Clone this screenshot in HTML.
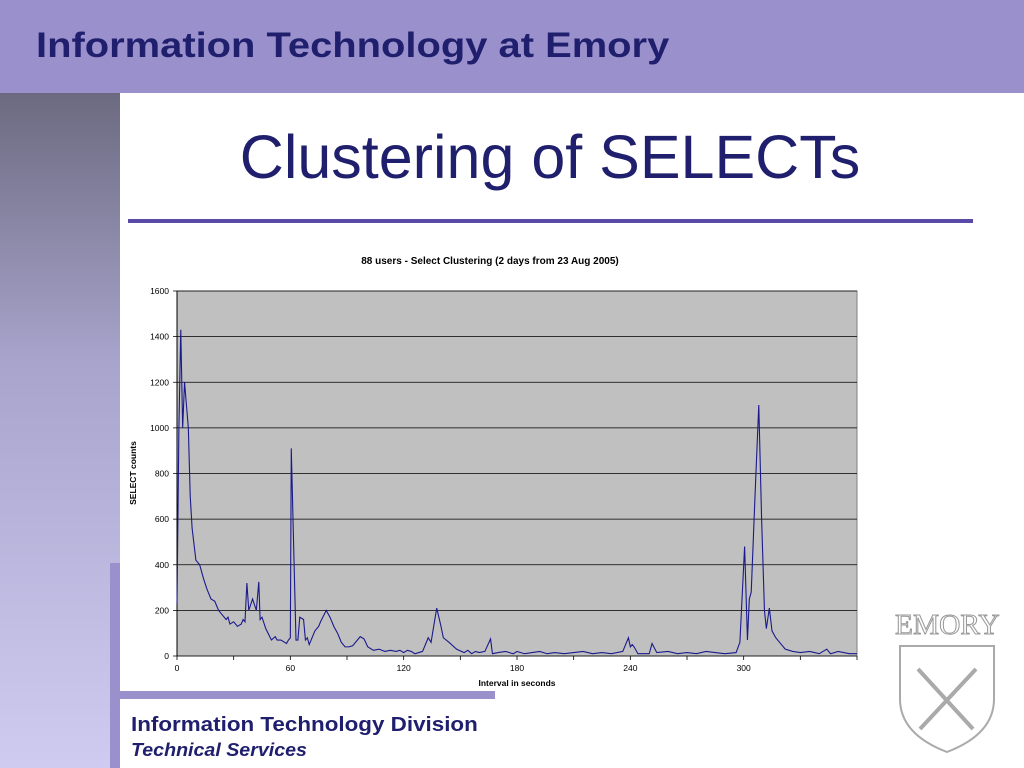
<!DOCTYPE html>
<html><head><meta charset="utf-8"><style>
body{margin:0;width:1024px;height:768px;overflow:hidden;background:#fff;font-family:"Liberation Sans",sans-serif;position:relative}
.abs{position:absolute}
</style></head><body>
<div class="abs" style="left:0;top:0;width:1024px;height:93px;background:#9a90cc"></div>
<div class="abs" style="left:36px;top:26px;font-size:35px;font-weight:bold;color:#1f1f6e;transform-origin:0 0;transform:scaleX(1.14);white-space:nowrap">Information Technology at Emory</div>
<div class="abs" style="left:0;top:93px;width:120px;height:675px;background:linear-gradient(#6c6a80,#a8a4cc 40%,#cfcbf0)"></div>
<div class="abs" style="left:110px;top:563px;width:10px;height:205px;background:#9a90cc"></div>
<div class="abs" style="left:120px;top:122px;width:860px;text-align:center;font-size:61px;color:#1f1f6e">Clustering of SELECTs</div>
<div class="abs" style="left:128px;top:219px;width:845px;height:4px;background:#5a4aa8"></div>
<div class="abs" style="left:120px;top:691px;width:375px;height:8px;background:#9a90cc"></div>
<div class="abs" style="left:131px;top:714px;font-size:20px;font-weight:bold;color:#1f1f6e;transform-origin:0 0;transform:scaleX(1.12);white-space:nowrap">Information Technology Division</div>
<div class="abs" style="left:131px;top:740px;font-size:18px;font-weight:bold;font-style:italic;color:#1f1f6e;transform-origin:0 0;transform:scaleX(1.09);white-space:nowrap">Technical Services</div>
<div class="abs" style="left:895px;top:610px;font-family:'Liberation Serif',serif;font-size:28px;color:#fff;-webkit-text-stroke:1px #999;transform-origin:0 0;transform:scaleX(1.05)">EMORY</div>
<svg class="abs" style="left:898px;top:644px" width="100" height="110"><path d="M2 2H96V55Q96 90 49 108Q2 90 2 55Z" fill="#fff" stroke="#aaa" stroke-width="2"/><path d="M20 25L75 85M78 25L22 85" stroke="#aaa" stroke-width="4"/></svg>
<svg class="abs" id="chart" style="left:0;top:0" width="1024" height="768"></svg>
<script>
const xs=[
0,1,2,3,4,6,7,8,10,12,
14,16,18,20,22,24,26,27,28,30,
32,34,35,36,37,38,40,42,43.3,44,
45,47,50,52,53,55,58,59,60,60.5,
62,63,64,65,67,68,69,70,73,75,
76,79,81,83,85,87,89,91,93,97,
99,101,104,107,110,113,116,118,120,122,
124,126,128,130,133,134.5,137.5,139.5,141,144,
148,152,154,156,158,160,163,166,167,170,
174,178,180,184,188,192,196,200,205,210,
215,220,225,230,236,239,240,241,242,244,
250,251.5,254,260,265,270,275,280,285,290,
296,298,300.5,302,303,304,306,308,309.5,311,
312,313.6,315,317,319,322,326,330,335,340,
344,346,350,356,360];
const ys=[
230,1000,1430,1000,1200,1000,700,560,420,400,
340,290,250,240,200,180,160,170,140,150,
130,140,160,150,320,200,250,200,325,160,
170,120,70,85,70,70,55,70,80,910,
400,70,70,170,160,70,80,50,110,130,
150,200,170,130,100,60,40,40,45,85,
75,40,25,30,20,25,20,25,15,25,
20,10,15,20,80,60,210,140,80,60,
30,15,25,10,20,15,20,75,10,15,
20,10,20,10,15,20,10,15,10,15,
20,10,15,10,20,80,40,50,40,10,
10,55,15,20,10,15,10,20,15,10,
15,60,480,70,250,280,700,1100,600,200,
120,210,110,80,60,30,20,15,20,10,
30,10,20,10,10];
const yTicks=[0,200,400,600,800,1000,1200,1400,1600];
const xTicks=[0,60,120,180,240,300];
const L=177,R=857,T=291,B=656,XMAX=360,YMAX=1600;
const sx=v=>L+(R-L)*v/XMAX, sy=v=>B-(B-T)*v/YMAX;
const svg=document.getElementById('chart');const NS='http://www.w3.org/2000/svg';
function mk(t,a,txt){const e=document.createElementNS(NS,t);for(const k in a)e.setAttribute(k,a[k]);if(txt!==undefined)e.textContent=txt;svg.appendChild(e);return e;}
let e=mk('rect',{x:L,y:T,width:R-L,height:B-T,fill:'#c0c0c0',stroke:'#808080'});


yTicks.forEach(v=>{
 const g=mk('line',{x1:L-4,x2:R,y1:sy(v),y2:sy(v),stroke:'#000','stroke-width':0.8});
 
 
 const t=mk('text',{x:L-8,y:sy(v)+3,'text-anchor':'end','font-size':8.5,fill:'#000'},v);
 
 
});
for(let v=0;v<=XMAX;v+=30){mk('line',{x1:sx(v),x2:sx(v),y1:B,y2:B+4,stroke:'#000','stroke-width':0.8});}
mk('line',{x1:L,x2:L,y1:T,y2:B,stroke:'#000'});
xTicks.forEach(v=>{
 const t=mk('text',{x:sx(v),y:B+15,'text-anchor':'middle','font-size':8.5,fill:'#000'},v);
 
 
});
const n=Math.min(xs.length,ys.length);
let pts=[];for(let i=0;i<n;i++)pts.push(sx(xs[i])+','+sy(ys[i]));
let p=mk('polyline',{points:pts.join(' '),fill:'none',stroke:'#1a1a8c','stroke-width':1.1});


let t1=mk('text',{x:490,y:264,'text-anchor':'middle','font-size':10,'font-weight':'bold'},'88 users -  Select Clustering (2 days from 23 Aug 2005)');


let t2=mk('text',{x:517,y:686,'text-anchor':'middle','font-size':8.5,'font-weight':'bold'},'Interval in seconds');


let t3=mk('text',{x:136,y:473,'text-anchor':'middle','font-size':8.5,'font-weight':'bold',transform:'rotate(-90 136 473)'},'SELECT counts');


</script>
</body></html>
